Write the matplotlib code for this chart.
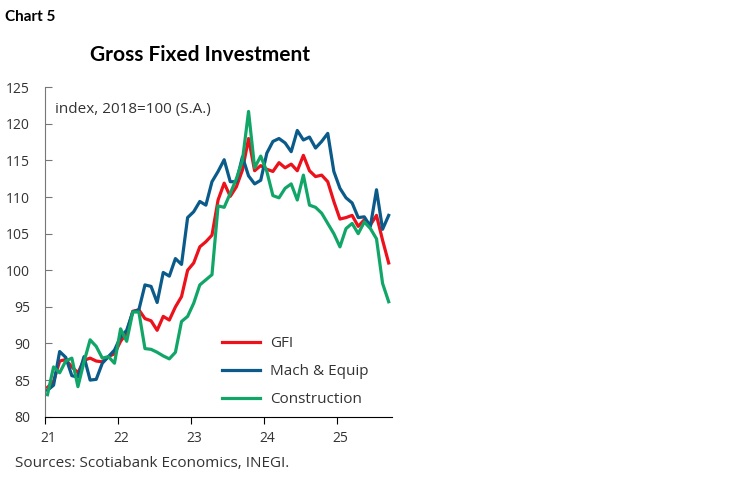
import matplotlib
matplotlib.use("Agg")
import matplotlib.pyplot as plt
import matplotlib.transforms as mtransforms
import numpy as np

# --- dados, mensal jan/2021 - set/2025 ---
gfi = [84.0, 84.8, 87.6, 87.8, 86.8, 86.0, 87.7, 88.0, 87.6, 87.5, 88.2, 88.6,
       90.3, 91.4, 94.4, 94.6, 93.4, 93.1, 91.8, 93.7, 93.2, 95.0, 96.4, 100.0,
       101.0, 103.2, 103.9, 104.8, 109.6, 111.9, 110.1, 111.4, 113.7, 118.0, 113.6, 114.3,
       113.8, 113.5, 114.7, 114.0, 114.5, 113.6, 115.7, 113.6, 112.8, 113.0, 112.1, 109.4,
       107.0, 107.2, 107.5, 106.0, 106.9, 106.2, 107.5, 104.1, 101.0]
mach = [83.6, 84.3, 88.9, 88.1, 85.6, 85.4, 88.2, 85.0, 85.1, 87.3, 88.2, 89.1,
        90.9, 91.8, 94.3, 94.6, 98.0, 97.8, 95.6, 99.7, 99.2, 101.6, 100.8, 107.2,
        108.0, 109.4, 108.9, 112.1, 113.5, 115.1, 112.1, 112.1, 115.5, 112.9, 111.8, 112.3,
        116.0, 117.6, 118.0, 117.4, 116.2, 119.1, 117.8, 118.2, 116.7, 117.6, 118.7, 113.5,
        111.2, 109.9, 109.2, 107.2, 107.3, 106.0, 111.0, 105.6, 107.5]
constr = [83.0, 86.8, 86.0, 87.6, 88.0, 84.1, 87.5, 90.5, 89.6, 88.0, 88.2, 87.3,
          92.0, 90.3, 94.3, 94.3, 89.3, 89.2, 88.8, 88.3, 87.9, 88.8, 93.0, 93.7,
          95.5, 98.0, 98.7, 99.4, 108.8, 108.6, 110.5, 112.5, 115.0, 121.7, 114.0, 115.6,
          113.5, 110.2, 109.9, 111.2, 111.8, 109.6, 113.0, 108.9, 108.6, 107.8, 106.4, 105.0,
          103.2, 105.7, 106.4, 105.0, 106.6, 105.7, 104.3, 98.2, 95.7]
year_labels = ["21", "22", "23", "24", "25"]
y_ticks = [80, 85, 90, 95, 100, 105, 110, 115, 120, 125]

plt.rcParams['font.family'] = ['Open Sans', 'DejaVu Sans']
txt_color = '#333333'

fig = plt.figure(figsize=(7.48, 4.83), dpi=100)
ax = fig.add_axes([0.0602, 0.1373, 0.4635, 0.682])

x = np.arange(len(gfi)) + 0.4
ax.plot(x, gfi, color='#EC111A', lw=2.3, label='GFI')
ax.plot(x, mach, color='#0A5A8A', lw=2.3, label='Mach & Equip')
ax.plot(x, constr, color='#11A668', lw=2.3, label='Construction')

ax.set_xlim(0, 56.9)
ax.set_ylim(80, 125)
ax.set_xticks([0, 12, 24, 36, 48])
ax.set_xticklabels(year_labels)
ax.set_yticks(y_ticks)

for s in ['top', 'right']:
    ax.spines[s].set_visible(False)
ax.spines['left'].set_color('#777777')
ax.spines['bottom'].set_color('#000000')
ax.tick_params(axis='y', direction='in', length=5, color='#777777', pad=11,
               labelsize=10, labelcolor=txt_color)
ax.tick_params(axis='x', direction='out', length=5, pad=5,
               labelsize=10, labelcolor=txt_color)
# rótulos do eixo x levemente deslocados para a direita, como no original
offset = mtransforms.ScaledTranslation(3 / 100, 0, fig.dpi_scale_trans)
for lbl in ax.get_xticklabels():
    lbl.set_transform(lbl.get_transform() + offset)

ax.text(0.028, 0.955, 'index, 2018=100 (S.A.)', transform=ax.transAxes,
        fontsize=11, color=txt_color, va='top')

ax.legend(loc='lower left', bbox_to_anchor=(0.47, -0.012), frameon=False,
          fontsize=11, handlelength=2.5, labelspacing=0.85, handletextpad=0.65,
          labelcolor=txt_color)

fig.text(0.007, 0.965, 'Chart 5', fontsize=11, fontweight='bold', va='center',
         family=['Lato', 'DejaVu Sans'])
fig.text(0.267, 0.886, 'Gross Fixed Investment', fontsize=15, fontweight='bold',
         ha='center', va='center', family=['Lato', 'DejaVu Sans'])
fig.text(0.02, 0.04, 'Sources: Scotiabank Economics, INEGI.', fontsize=11,
         color=txt_color, va='center')

fig.savefig('out.png', dpi=100)
